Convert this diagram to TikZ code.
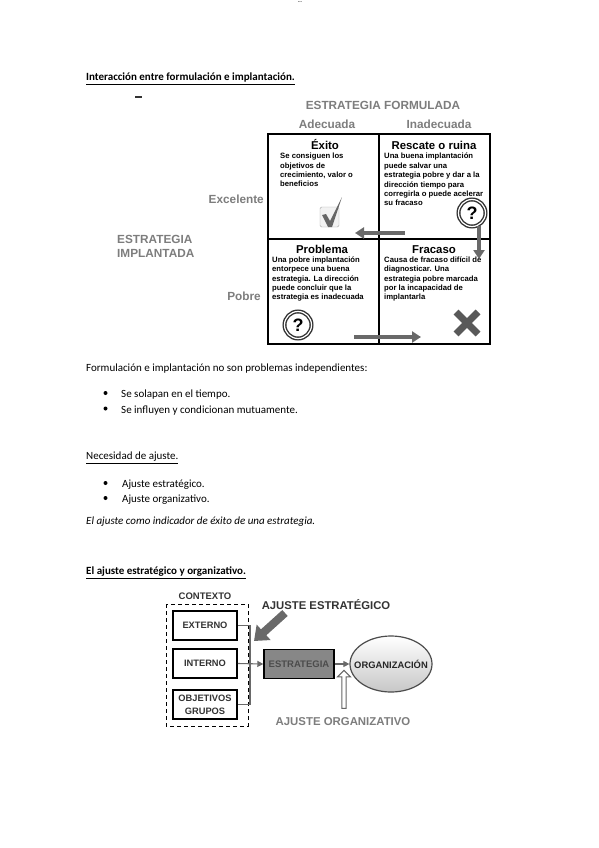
\documentclass[tikz,border=0pt]{standalone}
\usepackage{fontspec}
\setmainfont{Carlito}
\newfontfamily\figfont{Liberation Sans}
\definecolor{LabelGray}{RGB}{125,125,125}
\definecolor{ArrowGray}{RGB}{105,105,105}
\definecolor{BoxGray}{RGB}{135,135,135}
\usetikzlibrary{arrows.meta, shapes.geometric, shapes.arrows, positioning, calc}
\tikzset{
	bodytext/.style={anchor=west,inner sep=0pt,font=\fontsize{11}{13}\selectfont},
	bullettext/.style={circle,fill=black,inner sep=0pt,minimum size=4pt},
	axislabel/.style={inner sep=0pt,text=LabelGray,font=\figfont\bfseries\fontsize{11.8}{14}\selectfont},
	celltitle/.style={anchor=base,inner sep=0pt,font=\figfont\bfseries\fontsize{11.4}{13}\selectfont},
	celltext/.style={anchor=north west,inner sep=0pt,align=left,font=\figfont\bfseries\fontsize{7.7}{9.4}\selectfont},
	querymark/.style={circle,draw=black!80,double=white,double distance=1.2pt,line width=1.4pt,minimum size=27pt,inner sep=0pt,font=\figfont\bfseries\fontsize{18}{18}\selectfont},
	moveline/.style={ArrowGray,line width=3.4pt,-{Triangle[length=9pt,width=11pt]}},
	contextbox/.style={draw,line width=1.7pt,minimum width=64pt,minimum height=29pt,inner sep=0pt,align=center,
		text=black!80,font=\figfont\bfseries\fontsize{9.3}{13}\selectfont},
	feedline/.style={ArrowGray,line width=1.1pt},
	feedarrow/.style={feedline,-{Triangle[length=6pt,width=6pt]}}
}
\begin{document}
\begin{tikzpicture}[x=1pt,y=-1pt]
\useasboundingbox (0,0) rectangle (599,848);
% texto de la pagina
\node[inner sep=0pt,font=\fontsize{5}{5}\selectfont\bfseries] (pagemark) at (300,2) {...};
\node[bodytext,font=\fontsize{11}{13}\selectfont\bfseries] (titleone) at (86,79) {\underline{Interacción entre formulación e implantación.}};
\draw[line width=1.2pt,black!80] (135,97) -- (142,97);
\node[bodytext] (intro) at (86,369) {Formulación e implantación no son problemas independientes:};
\node[bullettext] (dotone) at (105.5,393) {};
\node[bodytext] (solapan) at (121,394.5) {Se solapan en el tiempo.};
\node[bullettext] (dottwo) at (105.5,408.5) {};
\node[bodytext] (influyen) at (121,410.5) {Se influyen y condicionan mutuamente.};
\node[bodytext] (titletwo) at (86,458) {\underline{Necesidad de ajuste.}};
\node[bullettext] (dotthree) at (105.5,483) {};
\node[bodytext] (ajusteone) at (122,484.5) {Ajuste estratégico.};
\node[bullettext] (dotfour) at (105.5,498) {};
\node[bodytext] (ajustetwo) at (122,499.5) {Ajuste organizativo.};
\node[bodytext,font=\fontsize{11}{13}\selectfont\itshape] (indicador) at (86,521.5) {El ajuste como indicador de éxito de una estrategia.};
\node[bodytext,font=\fontsize{11}{13}\selectfont\bfseries] (titlethree) at (86,573) {\underline{El ajuste estratégico y organizativo.}};
% matriz
\node[axislabel] (formulada) at (383,105) {ESTRATEGIA FORMULADA};
\node[axislabel] (adecuada) at (327,124) {Adecuada};
\node[axislabel] (inadecuada) at (439,124) {Inadecuada};
\node[axislabel,anchor=east] (excelente) at (264,199) {Excelente};
\node[axislabel,anchor=east] (pobre) at (261,296) {Pobre};
\node[axislabel,anchor=west,align=left,font=\figfont\bfseries\fontsize{11.8}{14}\selectfont] (implantada) at (117,246) {ESTRATEGIA\\IMPLANTADA};
\draw[line width=2pt] (268,134) rectangle (490,344);
\draw[line width=1.6pt] (379,134) -- (379,344) (268,239) -- (490,239);
\node[celltitle] (exito) at (325,149.5) {Éxito};
\node[celltext] (exitotext) at (280,153) {Se consiguen los\\objetivos de\\crecimiento, valor o\\beneficios};
\node[celltitle] (rescate) at (434,149.5) {Rescate o ruina};
\node[celltext] (rescatetext) at (384,153) {Una buena implantación\\puede salvar una\\estrategia pobre y dar a la\\dirección tiempo para\\corregirla o puede acelerar\\su fracaso};
\node[celltitle] (problema) at (322,253) {Problema};
\node[celltext] (problematext) at (272,256.5) {Una pobre implantación\\entorpece una buena\\estrategia. La dirección\\puede concluir que la\\estrategia es inadecuada};
\node[celltitle] (fracaso) at (434,253) {Fracaso};
\node[celltext] (fracasotext) at (384,256.5) {Causa de fracaso difícil de\\diagnosticar. Una\\estrategia pobre marcada\\por la incapacidad de\\implantarla};
% iconos
\draw[black!35,fill=black!5,rounded corners=1.5pt] (320,207) rectangle (339,227);
\fill[black!60] (322,215) -- (326,214) -- (330,221) -- (342,197) -- (332,227) -- (328,227) -- cycle;
\node[querymark] (queryone) at (472,213) {?};
\node[querymark] (querytwo) at (298,325) {?};
\draw[black!65,line width=7pt] (456,312) -- (478,334) (478,312) -- (456,334);
% flechas de la matriz
\coordinate (moveonestart) at (405,233);
\coordinate (moveoneend) at (355,233);
\coordinate (movetwostart) at (479,226);
\coordinate (movetwoend) at (479,259);
\coordinate (movethreestart) at (354,337);
\coordinate (movethreeend) at (421,337);
\draw[moveline] (moveonestart) -- (moveoneend);
\draw[moveline] (movetwostart) -- (movetwoend);
\draw[moveline] (movethreestart) -- (movethreeend);
% segundo esquema
\node[inner sep=0pt,text=black!80,font=\figfont\bfseries\fontsize{9.5}{11}\selectfont] (contexto) at (205,596) {CONTEXTO};
\draw[dash pattern=on 4pt off 3pt,line width=1pt] (166,604) rectangle (248,726);
\node[contextbox] (externo) at (205,625.5) {EXTERNO};
\node[contextbox] (interno) at (205,663.5) {INTERNO};
\node[contextbox] (objetivos) at (205,704.5) {OBJETIVOS\\GRUPOS};
\node[draw,fill=BoxGray,line width=1.4pt,minimum width=70pt,minimum height=29pt,inner sep=0pt,text=black!70,font=\figfont\bfseries\fontsize{9.5}{11}\selectfont] (estrategia) at (299,664) {ESTRATEGIA};
\node[ellipse,draw=black!70,top color=white,bottom color=black!22,line width=1.2pt,minimum width=82pt,minimum height=56pt,inner sep=0pt] (organizacion) at (391,664) {};
\node[inner sep=0pt,text=black!85,font=\figfont\bfseries\fontsize{9.4}{11}\selectfont] (organizaciontext) at (organizacion.center) {ORGANIZACIÓN};
\draw[feedline] (externo.east) -| (250,663.5);
\draw[feedline] (objetivos.east) -| (250,663.5);
\draw[feedarrow] (interno.east) -- (estrategia.west);
\draw[feedarrow] (estrategia.east) -- (organizacion.west);
\node[inner sep=0pt,text=black!80,font=\figfont\bfseries\fontsize{11.3}{13}\selectfont] (ajusteest) at (326,605) {AJUSTE ESTRATÉGICO};
\node[inner sep=0pt,text=LabelGray,font=\figfont\bfseries\fontsize{11.4}{13}\selectfont] (ajusteorg) at (343,722) {AJUSTE ORGANIZATIVO};
\coordinate (pencilstart) at (285,613);
\coordinate (pencilend) at (254,641);
\draw[ArrowGray,line width=8pt,-{Triangle[length=13pt,width=20pt]}] (pencilstart) -- (pencilend);
\node[single arrow,draw=black!60,fill=white,line width=1pt,shape border rotate=90,minimum height=38pt,minimum width=13pt,single arrow head extend=3pt,inner sep=1pt] (hollowarrow) at (344,690.5) {};
\end{tikzpicture}
\end{document}
